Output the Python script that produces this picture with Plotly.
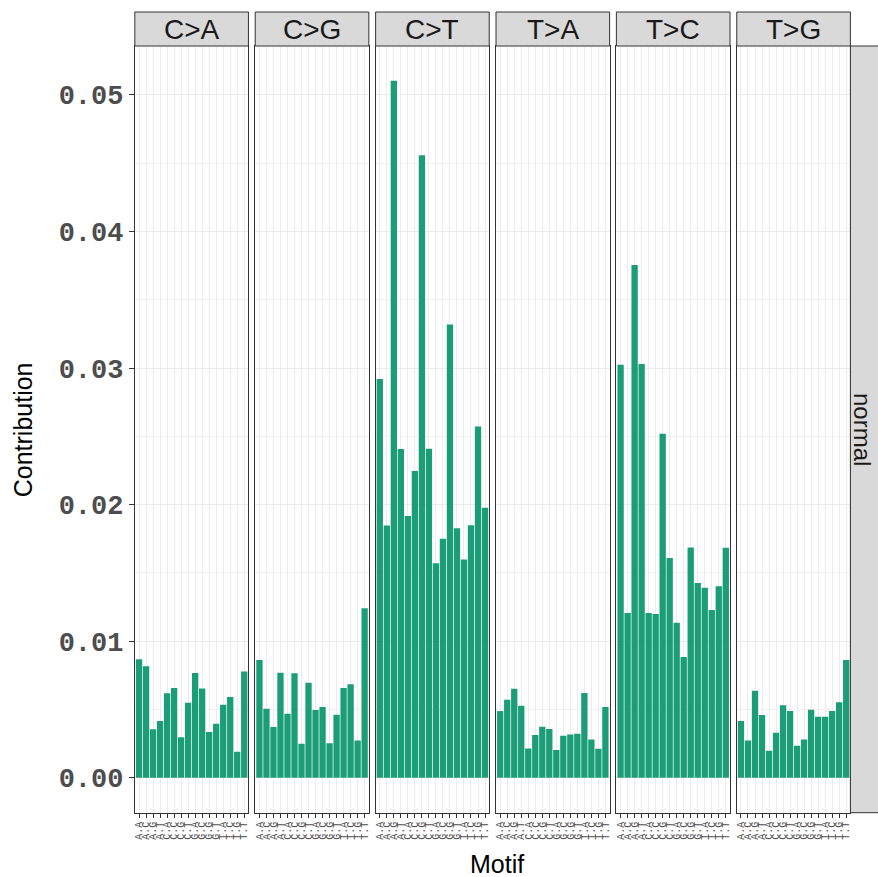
import plotly.graph_objects as go

W, H = 878, 877

substitutions = ["C>A", "C>G", "C>T", "T>A", "T>C", "T>G"]
contexts = ["A.A", "A.C", "A.G", "A.T", "C.A", "C.C", "C.G", "C.T",
            "G.A", "G.C", "G.G", "G.T", "T.A", "T.C", "T.G", "T.T"]

ca = [0.00868, 0.00817, 0.00355, 0.00416, 0.00619, 0.00658, 0.00298, 0.00550,
      0.00768, 0.00655, 0.00335, 0.00396, 0.00535, 0.00592, 0.00191, 0.00778]
cg = [0.00863, 0.00506, 0.00372, 0.00770, 0.00469, 0.00765, 0.00249, 0.00697,
      0.00496, 0.00518, 0.00254, 0.00462, 0.00658, 0.00685, 0.00274, 0.01242]
ct = [0.02920, 0.01848, 0.05103, 0.02407, 0.01918, 0.02246, 0.04558, 0.02410,
      0.01571, 0.01750, 0.03319, 0.01828, 0.01598, 0.01850, 0.02573, 0.01977]
ta = [0.00489, 0.00572, 0.00653, 0.00528, 0.00215, 0.00313, 0.00374, 0.00357,
      0.00203, 0.00308, 0.00318, 0.00323, 0.00621, 0.00281, 0.00213, 0.00518]
tc = [0.03025, 0.01207, 0.03754, 0.03030, 0.01207, 0.01200, 0.02520, 0.01610,
      0.01136, 0.00885, 0.01686, 0.01427, 0.01391, 0.01229, 0.01403, 0.01684]
tg = [0.00416, 0.00274, 0.00638, 0.00460, 0.00198, 0.00330, 0.00531, 0.00489,
      0.00235, 0.00281, 0.00499, 0.00447, 0.00447, 0.00489, 0.00553, 0.00863]
series = [ca, cg, ct, ta, tc, tg]

y_ticks = [0.00, 0.01, 0.02, 0.03, 0.04, 0.05]
sample_label = "normal"

bar_color = "#1b9e77"
grid_col = "#ebebeb"
border_col = "#333333"
strip_fill = "#d9d9d9"

# layout in pixels
panel_left0 = 134.3
panel_step = 120.8
panel_w = 114.0
panel_top = 46.0
panel_bottom = 812.7
strip_top = 12.0

y0 = 1 - panel_bottom / H
y1 = 1 - panel_top / H

fig = go.Figure()
layout = dict(
    width=W, height=H, margin=dict(l=0, r=0, t=0, b=0),
    paper_bgcolor="white", plot_bgcolor="white",
    showlegend=False, bargap=0.1,
)
shapes = []
annotations = []

ymax = max(max(s) for s in series)
yr = [-0.05 * ymax, 1.05 * ymax]

for i, (sub, vals) in enumerate(zip(substitutions, series)):
    n = "" if i == 0 else str(i + 1)
    left = panel_left0 + i * panel_step
    right = left + panel_w
    fig.add_trace(go.Bar(
        x=contexts, y=vals, xaxis="x" + n, yaxis="y" + n,
        marker=dict(color=bar_color, line=dict(width=0)),
        width=0.9,
    ))
    layout["xaxis" + n] = dict(
        domain=[left / W, right / W], anchor="y" + n,
        type="category", categoryorder="array", categoryarray=contexts,
        range=[-0.6, 15.6],
        tickmode="array", tickvals=contexts, ticktext=contexts,
        showgrid=True, gridcolor=grid_col, gridwidth=1,
        showline=True, linecolor=border_col, linewidth=1, mirror=True,
        ticks="outside", ticklen=4, tickcolor=border_col, tickwidth=1,
        tickangle=-90,
        tickfont=dict(family="Liberation Mono", size=10, color="#4d4d4d"),
        zeroline=False, fixedrange=True,
    )
    ydict = dict(
        domain=[y0, y1], anchor="x" + n, range=yr,
        tickvals=y_ticks, ticktext=[f"{v:.2f}" for v in y_ticks],
        showgrid=True, gridcolor=grid_col, gridwidth=1.1,
        minor=dict(dtick=0.005, tick0=0, showgrid=True, gridcolor="#f2f2f2", gridwidth=0.6, ticks=""),
        showline=True, linecolor=border_col, linewidth=1, mirror=True,
        zeroline=False, fixedrange=True,
    )
    if i == 0:
        ydict.update(ticks="outside", ticklen=5, tickcolor=border_col, tickwidth=1,
                     tickfont=dict(family="Liberation Mono", size=27, color="#4d4d4d", weight="bold"))
    else:
        ydict.update(matches="y", showticklabels=False, ticks="")
    layout["yaxis" + n] = ydict

    # top strip
    shapes.append(dict(type="rect", xref="paper", yref="paper",
                       x0=left / W, x1=right / W, y0=y1, y1=1 - strip_top / H,
                       fillcolor=strip_fill, line=dict(color=border_col, width=1), layer="above"))
    annotations.append(dict(text=sub, xref="paper", yref="paper",
                            x=(left + right) / 2 / W, y=1 - (strip_top + panel_top) / 2 / H,
                            showarrow=False, xanchor="center", yanchor="middle",
                            font=dict(family="Liberation Sans", size=28, color="#1a1a1a")))

# right strip
last_right = panel_left0 + 5 * panel_step + panel_w
shapes.append(dict(type="rect", xref="paper", yref="paper",
                   x0=last_right / W, x1=(last_right + 34) / W, y0=y0, y1=y1,
                   fillcolor=strip_fill, line=dict(color=border_col, width=1), layer="above"))
annotations.append(dict(text=sample_label, xref="paper", yref="paper",
                        x=(last_right + 12) / W, y=(y0 + y1) / 2, textangle=90,
                        showarrow=False, xanchor="center", yanchor="middle",
                        font=dict(family="Liberation Sans", size=24, color="#1a1a1a")))

# axis titles
annotations.append(dict(text="Contribution", xref="paper", yref="paper",
                        x=22 / W, y=(y0 + y1) / 2, textangle=-90,
                        showarrow=False, xanchor="center", yanchor="middle",
                        font=dict(family="Liberation Sans", size=25, color="black")))
annotations.append(dict(text="Motif", xref="paper", yref="paper",
                        x=498 / W, y=1 - 864 / H,
                        showarrow=False, xanchor="center", yanchor="middle",
                        font=dict(family="Liberation Sans", size=25, color="black")))

layout["shapes"] = shapes
layout["annotations"] = annotations
fig.update_layout(**layout)
fig.write_html("out.html")
